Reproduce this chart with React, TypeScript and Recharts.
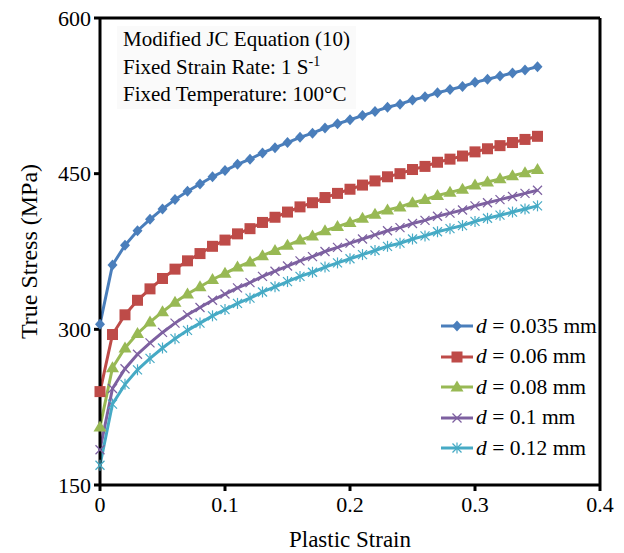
import React from "react";
import { LineChart, Line, XAxis, YAxis, ReferenceLine } from "recharts";

const strain = [
  0, 0.01, 0.02, 0.03, 0.04, 0.05, 0.06, 0.07, 0.08, 0.09, 0.1, 0.11, 0.12, 0.13, 0.14, 0.15, 0.16, 0.17,
  0.18, 0.19, 0.2, 0.21, 0.22, 0.23, 0.24, 0.25, 0.26, 0.27, 0.28, 0.29, 0.3, 0.31, 0.32, 0.33, 0.34, 0.35,
];
const d035 = [
  305, 362, 381, 395, 406, 416, 425, 433, 440, 447, 453, 459, 464, 470, 475, 480, 485, 489,
  494, 498, 502, 506, 510, 514, 517, 521, 524, 528, 531, 534, 538, 541, 544, 547, 550, 553,
];
const d06 = [
  240, 295, 314, 328, 339, 349, 358, 366, 373, 380, 386, 392, 397, 403, 408, 413, 418, 422,
  427, 431, 435, 439, 443, 447, 450, 454, 457, 461, 464, 467, 471, 474, 477, 480, 483, 486,
];
const d08 = [
  206, 263, 282, 296, 307, 317, 326, 334, 341, 348, 354, 360, 365, 371, 376, 381, 386, 390,
  395, 399, 403, 407, 411, 415, 418, 422, 425, 429, 432, 435, 439, 442, 445, 448, 451, 454,
];
const d1 = [
  184, 243, 262, 276, 287, 297, 306, 314, 321, 328, 334, 340, 345, 351, 356, 361, 366, 370,
  375, 379, 383, 387, 391, 395, 398, 402, 405, 409, 412, 415, 419, 422, 425, 428, 431, 434,
];
const d12 = [
  169, 228, 247, 261, 272, 282, 291, 299, 306, 313, 319, 325, 330, 336, 341, 346, 351, 355,
  360, 364, 368, 372, 376, 380, 383, 387, 390, 394, 397, 400, 404, 407, 410, 413, 416, 419,
];
const seriesNames = ["0.035", "0.06", "0.08", "0.1", "0.12"];
const xTicks = [0, 0.1, 0.2, 0.3, 0.4];
const yTicks = [150, 300, 450, 600];

const data = strain.map((s, i) => ({
  s,
  a: d035[i],
  b: d06[i],
  c: d08[i],
  d: d1[i],
  e: d12[i],
}));

const FONT = '"Liberation Serif", "Times New Roman", serif';

type Shape = "diamond" | "square" | "triangle" | "cross" | "star";

const series: { key: string; color: string; shape: Shape }[] = [
  { key: "a", color: "#4a7ebb", shape: "diamond" },
  { key: "b", color: "#be4b48", shape: "square" },
  { key: "c", color: "#98b954", shape: "triangle" },
  { key: "d", color: "#7d60a0", shape: "cross" },
  { key: "e", color: "#46aac5", shape: "star" },
];

function marker(shape: Shape, color: string, cx: number, cy: number, key?: any) {
  switch (shape) {
    case "diamond":
      return <polygon key={key} points={`${cx},${cy - 5.5} ${cx + 5},${cy} ${cx},${cy + 5.5} ${cx - 5},${cy}`} fill={color} />;
    case "square":
      return <rect key={key} x={cx - 5.5} y={cy - 5.5} width={11} height={11} fill={color} />;
    case "triangle":
      return <polygon key={key} points={`${cx},${cy - 6.5} ${cx + 6.5},${cy + 4.5} ${cx - 6.5},${cy + 4.5}`} fill={color} />;
    case "cross":
      return (
        <g key={key} stroke={color} strokeWidth={1.2}>
          <line x1={cx - 4.5} y1={cy - 4.5} x2={cx + 4.5} y2={cy + 4.5} />
          <line x1={cx - 4.5} y1={cy + 4.5} x2={cx + 4.5} y2={cy - 4.5} />
        </g>
      );
    default:
      return (
        <g key={key} stroke={color} strokeWidth={1.2}>
          <line x1={cx - 4.5} y1={cy - 4.5} x2={cx + 4.5} y2={cy + 4.5} />
          <line x1={cx - 4.5} y1={cy + 4.5} x2={cx + 4.5} y2={cy - 4.5} />
          <line x1={cx} y1={cy - 5.5} x2={cx} y2={cy + 5.5} />
        </g>
      );
  }
}

const LegendBox = () => (
  <div style={{ fontFamily: FONT, fontSize: 21.5, color: "#000", background: "#fff", padding: "2px 0 2px 4px" }}>
    {series.map((s, i) => (
      <div key={s.key} style={{ display: "flex", alignItems: "center", height: 30.5, whiteSpace: "nowrap" }}>
        <svg width={34} height={14} style={{ marginRight: 2 }}>
          <line x1={1} y1={7} x2={33} y2={7} stroke={s.color} strokeWidth={3} />
          {marker(s.shape, s.color, 17, 7)}
        </svg>
        <span>
          <i>d</i> = {seriesNames[i]} mm
        </span>
      </div>
    ))}
  </div>
);

export default function App() {
  return (
    <div style={{ position: "absolute", left: 0, top: 0, width: 624, height: 553, background: "#fff" }}>
      <LineChart width={624} height={553} data={data} margin={{ top: 18, right: 24, left: 0, bottom: 0 }}>
        <XAxis
          dataKey="s"
          type="number"
          domain={[0, 0.4]}
          ticks={xTicks}
          tickFormatter={(v: number) => (v === 0 ? "0" : String(v))}
          height={68}
          axisLine={{ stroke: "#000", strokeWidth: 3 }}
          tickLine={{ stroke: "#000", strokeWidth: 3 }}
          tickSize={6}
          tickMargin={5}
          tick={{ fill: "#000", fontSize: 22, fontFamily: FONT }}
          label={{ value: "Plastic Strain", position: "insideBottom", offset: 6, fill: "#000", fontSize: 23, fontFamily: FONT }}
        />
        <YAxis
          type="number"
          domain={[150, 600]}
          ticks={yTicks}
          width={100}
          axisLine={{ stroke: "#000", strokeWidth: 3 }}
          tickLine={{ stroke: "#000", strokeWidth: 3 }}
          tickSize={6}
          tickMargin={3}
          tick={{ fill: "#000", fontSize: 22, fontFamily: FONT }}
          label={{
            value: "True Stress (MPa)",
            angle: -90,
            position: "insideLeft",
            offset: 28,
            style: { textAnchor: "middle" },
            fill: "#000",
            fontSize: 24,
            fontFamily: FONT,
          }}
        />
        <ReferenceLine y={600} stroke="#000" strokeWidth={3} />
        <ReferenceLine x={0.4} stroke="#000" strokeWidth={3} />
        {series.map((s) => (
          <Line
            key={s.key}
            dataKey={s.key}
            stroke={s.color}
            strokeWidth={3}
            type="linear"
            isAnimationActive={false}
            dot={(p: any) => marker(s.shape, s.color, p.cx, p.cy, p.index)}
            activeDot={false}
          />
        ))}
      </LineChart>
      <div style={{ position: "absolute", left: 436, top: 309, width: 162 }}>
        <LegendBox />
      </div>
      <div
        style={{
          position: "absolute",
          left: 117,
          top: 26,
          fontFamily: FONT,
          fontSize: 21,
          lineHeight: "27.5px",
          color: "#000",
          background: "#fafafa",
          padding: "0 6px",
        }}
      >
        <div>Modified JC Equation (10)</div>
        <div>
          Fixed Strain Rate: 1 S<sup style={{ fontSize: 14, lineHeight: 0 }}>-1</sup>
        </div>
        <div>Fixed Temperature: 100°C</div>
      </div>
    </div>
  );
}
